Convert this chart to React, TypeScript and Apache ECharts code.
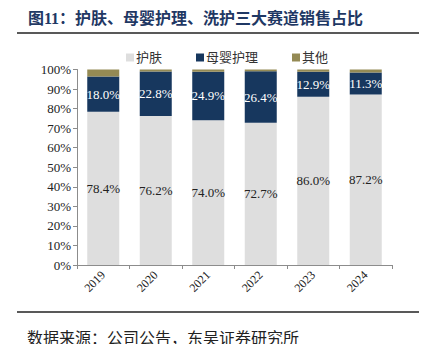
import React, { useEffect, useRef } from "react";
import * as echarts from "echarts";

const years = ["2019", "2020", "2021", "2022", "2023", "2024"];
const skinCare = [78.4, 76.2, 74.0, 72.7, 86.0, 87.2];
const babyCare = [18.0, 22.8, 24.9, 26.4, 12.9, 11.3];
const others = [3.6, 1.0, 1.1, 0.9, 1.1, 1.5];
const seriesNames = ["护肤", "母婴护理", "其他"];
const yTicks = [0, 10, 20, 30, 40, 50, 60, 70, 80, 90, 100];

const serif = "'Liberation Serif', 'Noto Sans CJK SC', serif";
const cjk = "'Liberation Serif', 'Noto Sans CJK SC', sans-serif";

export default function App() {
  const ref = useRef<HTMLDivElement>(null);
  useEffect(() => {
    if (!ref.current) return;
    const chart = echarts.init(ref.current, undefined, { renderer: "svg" });
    chart.setOption({
      animation: false,
      backgroundColor: "#fff",
      graphic: [
        {
          type: "text",
          left: 28,
          top: 10,
          style: {
            text: "图11：护肤、母婴护理、洗护三大赛道销售占比",
            font: "bold 16px 'Liberation Serif', 'Noto Sans CJK SC', sans-serif",
            fill: "#1f3864",
          },
        },
        {
          type: "line",
          shape: { x1: 17, y1: 33, x2: 419, y2: 33 },
          style: { stroke: "#222", lineWidth: 1.5 },
        },
        {
          type: "line",
          shape: { x1: 17, y1: 312, x2: 419, y2: 312 },
          style: { stroke: "#222", lineWidth: 1.5 },
        },
        {
          type: "text",
          left: 27,
          top: 329,
          style: {
            text: "数据来源：公司公告，东吴证券研究所",
            font: "16px 'Noto Sans CJK SC', sans-serif",
            fill: "#222",
          },
        },
      ],
      legend: {
        data: seriesNames,
        top: 46,
        left: 121,
        itemWidth: 8,
        itemHeight: 8,
        itemGap: 34,
        icon: "rect",
        textStyle: { fontSize: 13, color: "#333", fontFamily: cjk, padding: [0, 0, 0, -3] },
      },
      grid: { left: 77, right: 35, top: 69.5, bottom: 87, containLabel: false },
      xAxis: {
        type: "category",
        data: years,
        axisLine: { lineStyle: { color: "#8c8c8c" } },
        axisTick: { show: true, length: 4, lineStyle: { color: "#8c8c8c" } },
        axisLabel: {
          rotate: 45,
          fontSize: 12,
          color: "#222",
          fontFamily: serif,
          margin: 8,
        },
      },
      yAxis: {
        type: "value",
        min: 0,
        max: 100,
        interval: 10,
        axisLine: { show: true, lineStyle: { color: "#8c8c8c" } },
        axisTick: { show: true, length: 4, lineStyle: { color: "#8c8c8c" } },
        splitLine: { show: false },
        axisLabel: {
          formatter: (v: number) => (yTicks.includes(v) ? v + "%" : ""),
          fontSize: 13,
          color: "#222",
          fontFamily: serif,
          margin: 6,
        },
      },
      series: [
        {
          name: seriesNames[0],
          type: "bar",
          stack: "total",
          barWidth: 32,
          data: skinCare,
          itemStyle: { color: "#dedede" },
          label: {
            show: true,
            position: "inside",
            formatter: (p: any) => p.value.toFixed(1) + "%",
            fontSize: 13,
            color: "#222",
            fontFamily: serif,
          },
        },
        {
          name: seriesNames[1],
          type: "bar",
          stack: "total",
          barWidth: 32,
          data: babyCare,
          itemStyle: { color: "#17375e" },
          label: {
            show: true,
            position: "inside",
            formatter: (p: any) => p.value.toFixed(1) + "%",
            fontSize: 13,
            color: "#fff",
            fontFamily: serif,
          },
        },
        {
          name: seriesNames[2],
          type: "bar",
          stack: "total",
          barWidth: 32,
          data: others,
          itemStyle: { color: "#948a54" },
        },
      ],
    });
    return () => chart.dispose();
  }, []);
  return <div ref={ref} style={{ width: 427, height: 352, margin: -8 }} />;
}
